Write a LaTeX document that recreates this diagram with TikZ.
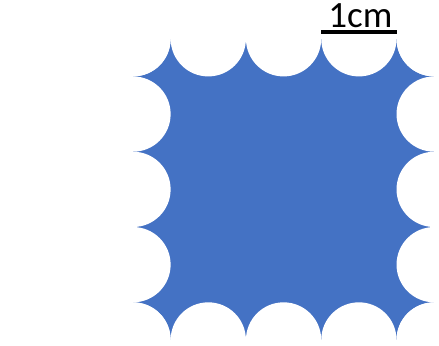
\documentclass[tikz,border=0pt]{standalone}
\usepackage{fontspec}
\setmainfont{Carlito}
\definecolor{tileb}{HTML}{4472C4}
\begin{document}
\begin{tikzpicture}[capt/.style={anchor=base,inner sep=0pt,font=\fontsize{14}{16}\selectfont}]
\useasboundingbox (-1.766,-0.08) rectangle (4.064,4.515);
\begin{scope}
  \clip (0,0) rectangle (4,4);
  \fill[tileb] (0,0) rectangle (4,4);
  \foreach \i in {0,...,4} {
    \fill[white] (\i,0) circle (0.5);
    \fill[white] (\i,4) circle (0.5);
    \fill[white] (0,\i) circle (0.5);
    \fill[white] (4,\i) circle (0.5);
  }
\end{scope}
\coordinate (barl) at (2.5,4.09);
\coordinate (barr) at (3.5,4.09);
\draw[line width=1.25pt] (barl) -- (barr);
\node[capt] (scl) at (3.02,4.15) {1cm};
\end{tikzpicture}
\end{document}
